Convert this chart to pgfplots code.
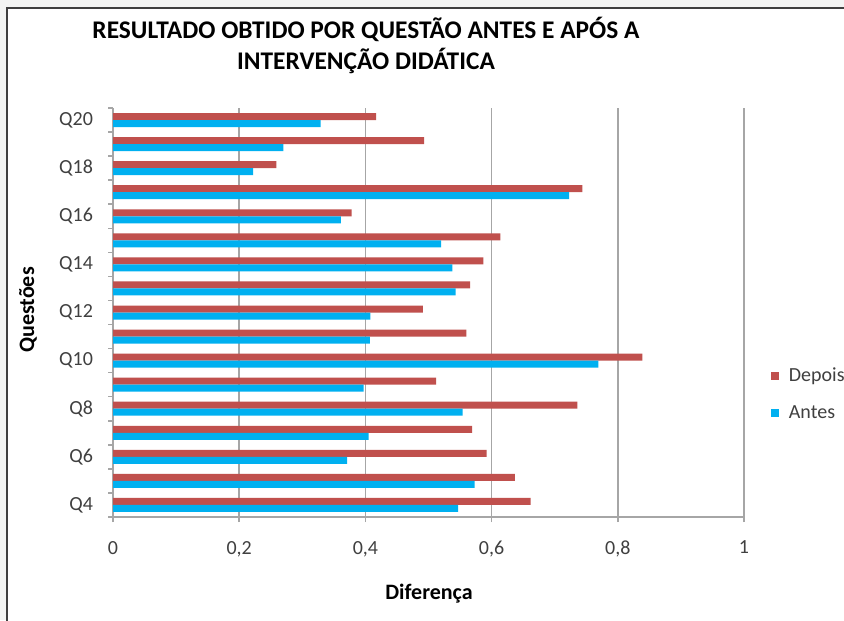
\documentclass[border=0pt]{standalone}
\usepackage{pgfplots}
\usepackage{pgfplotstable}
\pgfplotsset{compat=1.18}
\usepackage{fontspec}
\setmainfont{Carlito}

\definecolor{depois}{HTML}{C0504D}
\definecolor{antes}{HTML}{00B0F0}
\definecolor{gridgray}{HTML}{A6A6A6}
\definecolor{txt}{HTML}{404040}
\definecolor{outside}{HTML}{F3F4F3}
\definecolor{moldura}{HTML}{3F3F3F}

% Diferença por questão, antes e depois da intervenção
\pgfplotstableread{
q  depois antes
4  0.662  0.547
5  0.637  0.573
6  0.592  0.371
7  0.569  0.405
8  0.736  0.554
9  0.512  0.397
10 0.839  0.769
11 0.560  0.407
12 0.491  0.408
13 0.566  0.543
14 0.587  0.538
15 0.614  0.520
16 0.378  0.361
17 0.744  0.723
18 0.259  0.222
19 0.493  0.270
20 0.417  0.329
}\dados

\begin{document}
\begin{tikzpicture}
\useasboundingbox (0,0) rectangle (422pt,-310pt);
\clip (0,0) rectangle (422pt,-310pt);
\fill[outside] (0,0) rectangle (422pt,-310pt);
\filldraw[fill=white, draw=moldura, line width=1pt] (3.3pt,-4.2pt) rectangle (440pt,-330pt);

\node[font=\bfseries\fontsize{12.7}{15.5}\selectfont, align=center, text=black]
  at (183pt,-22.5pt) {RESULTADO OBTIDO POR QUESTÃO ANTES E APÓS A\\INTERVENÇÃO DIDÁTICA};

\begin{axis}[
  at={(56.5pt,-258.5pt)}, anchor=south west,
  scale only axis, width=315.5pt, height=204.5pt,
  xbar, bar width=3.5pt,
  xmin=0, xmax=1, ymin=3.5, ymax=20.5,
  axis x line*=bottom, axis y line*=left,
  axis line style={gridgray, line width=0.75pt, -},
  xtick={0,0.2,0.4,0.6,0.8,1},
  xticklabels={0,{0,2},{0,4},{0,6},{0,8},1},
  xmajorgrids, major grid style={gridgray, line width=0.75pt},
  ytick={3.5,4.5,...,20.5}, yticklabels={,,},
  extra y ticks={4,6,8,10,12,14,16,18,20},
  extra y tick labels={Q4,Q6,Q8,Q10,Q12,Q14,Q16,Q18,Q20},
  extra y tick style={major tick length=0pt, grid=none},
  tick align=outside, major tick length=2.5pt,
  tick style={gridgray, line width=0.75pt},
  ticklabel style={font=\fontsize{10}{12}\selectfont, text=txt},
  xticklabel style={yshift=-6pt},
  yticklabel style={xshift=-6.5pt},
  legend style={at={(1.042,0.30)}, anchor=west, draw=none, fill=none,
    font=\fontsize{10}{12}\selectfont, text=txt, row sep=10.5pt, inner sep=0pt,
    nodes={inner sep=0pt},
    /tikz/every odd column/.append style={column sep=5pt}},
  legend cell align=left,
  quadrado/.style={legend image code/.code={\fill[##1] (0pt,-2pt) rectangle (4pt,2pt);}},
]
\addplot[fill=depois, draw=none, bar shift=1.75pt, quadrado] table[x=depois, y=q] {\dados};
\addlegendentry{Depois}
\addplot[fill=antes, draw=none, bar shift=-1.75pt, quadrado] table[x=antes, y=q] {\dados};
\addlegendentry{Antes}
\end{axis}

\node[font=\bfseries\fontsize{11}{13}\selectfont, text=black, rotate=90] at (14pt,-155pt) {Questões};
\node[font=\bfseries\fontsize{11}{13}\selectfont, text=black] at (214.5pt,-297pt) {Diferença};
\end{tikzpicture}
\end{document}
